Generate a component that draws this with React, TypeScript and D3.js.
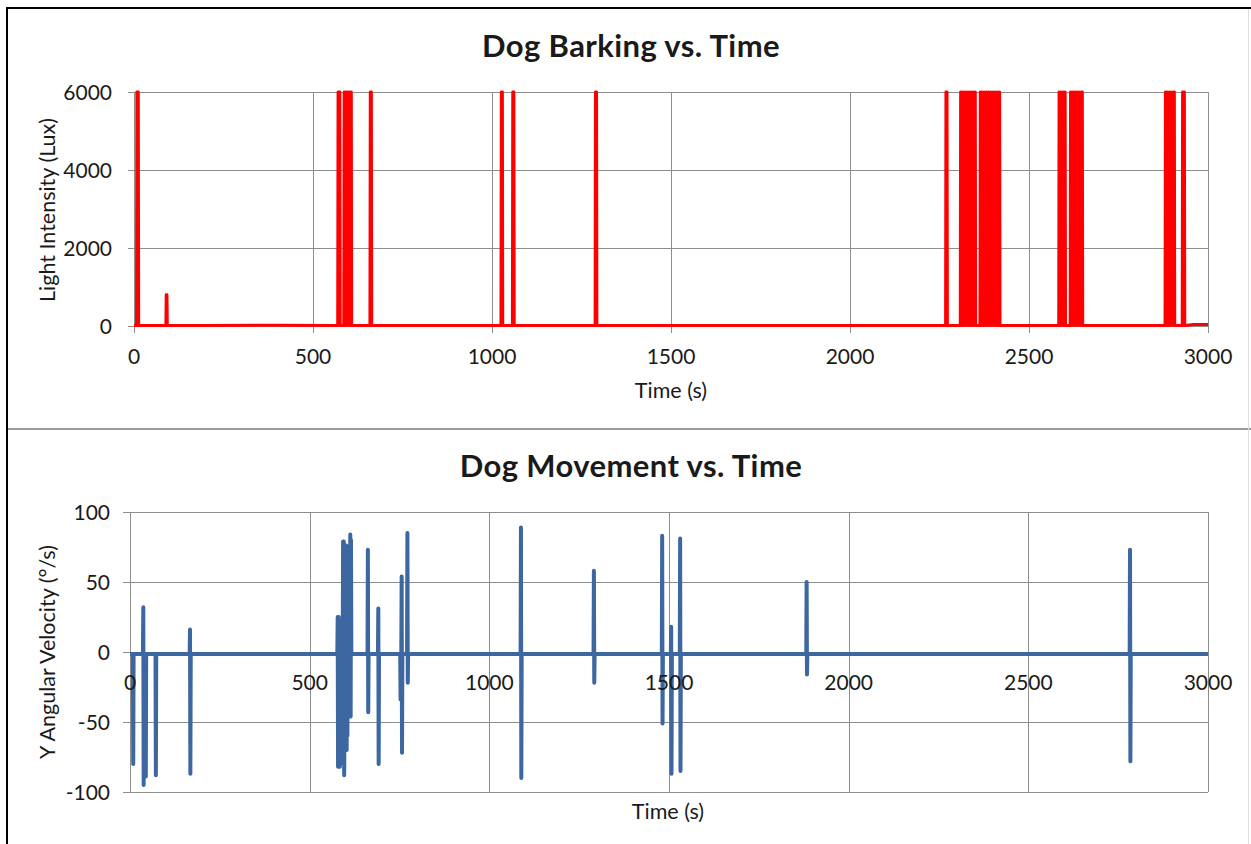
import React from 'react';
import * as d3 from 'd3';

// tick labels
const timeTicks = [0, 500, 1000, 1500, 2000, 2500, 3000];
const luxTicks = [0, 2000, 4000, 6000];
const velocityTicks = [-100, -50, 0, 50, 100];

// [time (s), light intensity (lux)]
const barking: [number, number][] = [
  [0, 10], [7, 10], [8, 6000], [12, 6000], [13, 10],
  [89, 10], [90, 800], [92, 800], [93, 10],
  [200, 15], [400, 20], [560, 15],
  [569, 10], [570, 6000], [575, 6000], [576, 10],
  [586, 10], [587, 6000], [589, 10], [591, 6000], [593, 10], [595, 6000], [597, 10],
  [599, 6000], [601, 10], [603, 6000], [605, 10], [607, 6000], [608, 10],
  [659, 10], [660, 6000], [663, 6000], [664, 10],
  [800, 15],
  [1025, 10], [1026, 6000], [1029, 6000], [1030, 10],
  [1057, 10], [1058, 6000], [1061, 6000], [1062, 10],
  [1288, 10], [1289, 6000], [1292, 6000], [1293, 10],
  [1700, 15], [2000, 10],
  [2267, 10], [2268, 6000], [2271, 6000], [2272, 10],
  [2308, 10], [2309, 6000], [2312, 10], [2315, 6000], [2318, 10], [2321, 6000], [2324, 10],
  [2327, 6000], [2330, 10], [2333, 6000], [2336, 10], [2339, 6000], [2342, 10], [2345, 6000],
  [2348, 10], [2350, 6000], [2351, 10],
  [2363, 10], [2364, 6000], [2367, 10], [2370, 6000], [2373, 10], [2376, 6000], [2379, 10],
  [2382, 6000], [2385, 10], [2388, 6000], [2391, 10], [2394, 6000], [2397, 10], [2400, 6000],
  [2403, 10], [2406, 6000], [2409, 10], [2412, 6000], [2415, 10], [2418, 6000], [2419, 10],
  [2500, 15],
  [2583, 10], [2584, 6000], [2587, 10], [2590, 6000], [2593, 10], [2596, 6000], [2599, 10],
  [2601, 6000], [2602, 10],
  [2615, 10], [2616, 6000], [2619, 10], [2622, 6000], [2625, 10], [2628, 6000], [2631, 10],
  [2634, 6000], [2637, 10], [2640, 6000], [2643, 10], [2646, 6000], [2649, 6000], [2650, 10],
  [2700, 15],
  [2880, 10], [2881, 6000], [2884, 10], [2887, 6000], [2890, 10], [2893, 6000], [2896, 10],
  [2899, 6000], [2902, 10], [2905, 6000], [2906, 6000], [2907, 10],
  [2928, 10], [2929, 6000], [2931, 30], [2933, 6000], [2934, 6000], [2935, 10],
  [2960, 40], [3000, 40],
];

// [time (s), Y angular velocity (deg/s)]
const movement: [number, number][] = [
  [0, -1.5], [8, -1.5], [9, -80], [10, -1.5],
  [36, -1.5], [37, 32], [38, -95], [39, -1.5],
  [43, -1.5], [44, -89], [45, -1.5],
  [71, -1.5], [72, -88], [73, -1.5],
  [166, -1.5], [167, 16], [168, -87], [169, -1.5],
  [577, -1.5], [578, 25], [579, -82], [580, -20], [581, 25], [582, -1.5], [584, -82], [585, -60], [587, -1.5],
  [592, -1.5], [593, 79], [594, -80], [595, 79], [596, -88], [598, -1.5],
  [601, -1.5], [602, 76], [603, -70], [604, 72], [605, -60], [606, -1.5],
  [612, -1.5], [613, 84], [614, -46], [615, 80], [616, -1.5],
  [661, -1.5], [662, 73], [663, -43], [664, -1.5],
  [690, -1.5], [691, 31], [692, -80], [693, -1.5],
  [752, -1.5], [753, -34], [755, -1.5], [756, 54], [757, -72], [758, -1.5],
  [771, -1.5], [772, 85], [773, -22], [774, -1.5],
  [1087, -1.5], [1088, 89], [1089, -90], [1090, -1.5],
  [1290, -1.5], [1291, 58], [1292, -22], [1293, -1.5],
  [1480, -1.5], [1481, 83], [1482, -51], [1483, -1.5],
  [1505, -1.5], [1506, 18], [1507, -87], [1508, -1.5],
  [1530, -1.5], [1531, 81], [1532, -85], [1533, -1.5],
  [1882, -1.5], [1883, 50], [1884, -16], [1885, -1.5],
  [2782, -1.5], [2783, 73], [2784, -78], [2785, -1.5],
  [3000, -1.5],
];

const FONT = 'Lato, "Liberation Sans", sans-serif';
const GRID = '#8e8e8e';
const TEXT = '#1a1a1a';

export default function App() {
  const xTop = d3.scaleLinear().domain([0, 3000]).range([134, 1208]);
  const yTop = d3.scaleLinear().domain([0, 6000]).range([326, 92]);
  const xBot = d3.scaleLinear().domain([0, 3000]).range([130, 1208]);
  const yBot = d3.scaleLinear().domain([-100, 100]).range([792, 512]);

  const topLine = d3.line<[number, number]>()
    .x(d => xTop(d[0]))
    .y(d => yTop(d[1]));
  const botLine = d3.line<[number, number]>()
    .x(d => xBot(d[0]))
    .y(d => yBot(d[1]));

  const r = (v: number) => Math.round(v) + 0.5;

  return (
    <svg width={1251} height={844} style={{ position: 'absolute', left: 0, top: 0, background: '#fff' }}
      fontFamily={FONT}>
      <rect x={0} y={0} width={1251} height={844} fill="#fff" />

      {/* frame */}
      <line x1={7} x2={7} y1={8} y2={844} stroke="#000" strokeWidth={2} />
      <line x1={6} x2={1251} y1={8} y2={8} stroke="#000" strokeWidth={2} />
      <line x1={8} x2={1251} y1={429} y2={429} stroke="#9a9a9a" strokeWidth={2} />
      <line x1={1248.5} x2={1248.5} y1={9} y2={844} stroke="#dedede" strokeWidth={1} />

      {/* ---------- top chart ---------- */}
      <text x={631} y={57} textAnchor="middle" fontSize={31} fontWeight="bold" letterSpacing={0.4} fill={TEXT}>Dog Barking vs. Time</text>
      {luxTicks.map(t => (
        <g key={'ly' + t}>
          <line x1={xTop(0) - 6} x2={xTop(3000)} y1={r(yTop(t))} y2={r(yTop(t))} stroke={GRID} />
          <text x={112} y={yTop(t) + 7.5} textAnchor="end" fontSize={21} fill={TEXT}>{t}</text>
        </g>
      ))}
      {timeTicks.map(t => (
        <g key={'tx' + t}>
          <line x1={r(xTop(t))} x2={r(xTop(t))} y1={yTop(6000)} y2={yTop(0) + 7} stroke={GRID} />
          <text x={xTop(t)} y={364} textAnchor="middle" fontSize={21} fill={TEXT}>{t}</text>
        </g>
      ))}
      <text x={671} y={398} textAnchor="middle" fontSize={21.5} fill={TEXT}>Time (s)</text>
      <text transform="translate(55,210) rotate(-90)" textAnchor="middle" fontSize={21.5} fill={TEXT}>Light Intensity (Lux)</text>
      <path d={topLine(barking) || ''} fill="none" stroke="#ff0000" strokeWidth={3} strokeLinejoin="round" />

      {/* ---------- bottom chart ---------- */}
      <text x={631} y={477} textAnchor="middle" fontSize={31} fontWeight="bold" letterSpacing={0.4} fill={TEXT}>Dog Movement vs. Time</text>
      {velocityTicks.map(t => (
        <g key={'vy' + t}>
          <line x1={xBot(0) - 7} x2={xBot(3000)} y1={r(yBot(t))} y2={r(yBot(t))} stroke={GRID} />
          <text x={110} y={yBot(t) + 7.5} textAnchor="end" fontSize={21} fill={TEXT}>{t}</text>
        </g>
      ))}
      {timeTicks.map(t => (
        <line key={'bx' + t} x1={r(xBot(t))} x2={r(xBot(t))} y1={yBot(100)} y2={yBot(-100)} stroke={GRID} />
      ))}
      <path d={botLine(movement) || ''} fill="none" stroke="#3c67a1" strokeWidth={4} strokeLinejoin="round" />
      {timeTicks.map(t => (
        <text key={'bl' + t} x={xBot(t)} y={690} textAnchor="middle" fontSize={21} fill={TEXT}>{t}</text>
      ))}
      <text x={668} y={819} textAnchor="middle" fontSize={21.5} fill={TEXT}>Time (s)</text>
      <text transform="translate(55,652) rotate(-90)" textAnchor="middle" fontSize={21.5} fill={TEXT}>Y Angular Velocity (°/s)</text>
    </svg>
  );
}
